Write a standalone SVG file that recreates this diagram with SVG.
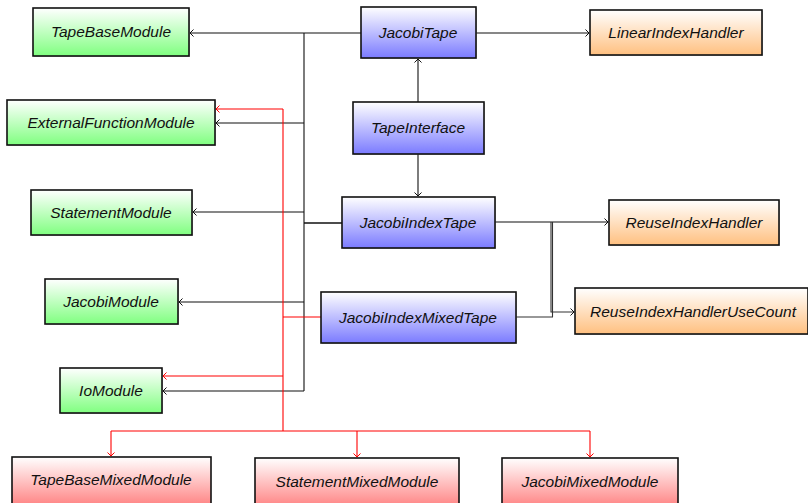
<svg xmlns="http://www.w3.org/2000/svg" width="808" height="503" viewBox="0 0 808 503">
<defs>
<linearGradient id="gG" x1="0" y1="0" x2="0" y2="1"><stop offset="0" stop-color="#ffffff"/><stop offset="1" stop-color="#80ff80"/></linearGradient>
<linearGradient id="gB" x1="0" y1="0" x2="0" y2="1"><stop offset="0" stop-color="#ffffff"/><stop offset="1" stop-color="#7b7bff"/></linearGradient>
<linearGradient id="gO" x1="0" y1="0" x2="0" y2="1"><stop offset="0" stop-color="#ffffff"/><stop offset="1" stop-color="#ffc080"/></linearGradient>
<linearGradient id="gR" x1="0" y1="0" x2="0" y2="1"><stop offset="0" stop-color="#ffffff"/><stop offset="1" stop-color="#ff8080"/></linearGradient>
<marker id="aK" viewBox="-5 -5 6 10" markerWidth="6" markerHeight="10" refX="0" refY="0" orient="auto" markerUnits="userSpaceOnUse"><path d="M-3.5,-3.5 L0,0 L-3.5,3.5" fill="none" stroke="#111" stroke-width="1"/></marker>
<marker id="aR" viewBox="-5 -5 6 10" markerWidth="6" markerHeight="10" refX="0" refY="0" orient="auto" markerUnits="userSpaceOnUse"><path d="M-3.5,-3.5 L0,0 L-3.5,3.5" fill="none" stroke="#f00" stroke-width="1"/></marker>
</defs>
<style>
.n rect.s{fill:#999;opacity:0.5}
.n rect.b{stroke:#111;stroke-width:1.6}
.n text{font-family:"Liberation Sans",Arial,sans-serif;font-style:italic;font-size:15.5px;text-anchor:middle;fill:#111}
.k{fill:none;stroke:#111;stroke-width:1.1}
.t{fill:none;stroke:#444;stroke-width:1.4}
.r{fill:none;stroke:#f00;stroke-width:1.1}
</style>
<g id="connectors">
<path class="t" d="M304,33 V391"/>
<path class="k" d="M361,33 H190" marker-end="url(#aK)"/>
<path class="k" d="M304,123 H216" marker-end="url(#aK)"/>
<path class="k" d="M304,212 H193" marker-end="url(#aK)"/>
<path class="k" d="M304,302 H179" marker-end="url(#aK)"/>
<path class="k" d="M304,391 H163" marker-end="url(#aK)"/>
<path class="k" d="M342,223 H304" style="stroke-width:1.6"/>
<path class="k" d="M476,33 H589" marker-end="url(#aK)"/>
<path class="k" d="M418,102 V59" marker-end="url(#aK)"/>
<path class="k" d="M418,154 V196" marker-end="url(#aK)"/>
<path class="k" d="M495,222 H608" marker-end="url(#aK)"/>
<path class="k" d="M551,222 V312 H574" marker-end="url(#aK)" style="stroke:#333"/>
<path class="k" d="M516,317 H552.5 V222" style="stroke:#333"/>
<path class="r" d="M283,109 V431"/>
<path class="r" d="M283,109 H216" marker-end="url(#aR)"/>
<path class="r" d="M321,317 H283"/>
<path class="r" d="M283,376 H163" marker-end="url(#aR)"/>
<path class="r" d="M111,431 H590"/>
<path class="r" d="M111,431 V456" marker-end="url(#aR)"/>
<path class="r" d="M357,431 V457" marker-end="url(#aR)"/>
<path class="r" d="M590,431 V457" marker-end="url(#aR)"/>
</g>
<g id="TapeBaseModule" class="n"><rect class="s" x="34" y="9" width="156" height="48"/><rect class="b" x="33" y="8" width="156" height="48" fill="url(#gG)"/><text x="111" y="37">TapeBaseModule</text></g>
<g id="ExternalFunctionModule" class="n"><rect class="s" x="8" y="101" width="208" height="45"/><rect class="b" x="7" y="100" width="208" height="45" fill="url(#gG)"/><text x="111" y="128">ExternalFunctionModule</text></g>
<g id="StatementModule" class="n"><rect class="s" x="32" y="191" width="161" height="45"/><rect class="b" x="31" y="190" width="161" height="45" fill="url(#gG)"/><text x="111" y="218">StatementModule</text></g>
<g id="JacobiModule" class="n"><rect class="s" x="46" y="280" width="133" height="45"/><rect class="b" x="45" y="279" width="133" height="45" fill="url(#gG)"/><text x="111" y="307">JacobiModule</text></g>
<g id="IoModule" class="n"><rect class="s" x="61" y="369" width="102" height="45"/><rect class="b" x="60" y="368" width="102" height="45" fill="url(#gG)"/><text x="111" y="396">IoModule</text></g>
<g id="TapeBaseMixedModule" class="n"><rect class="b" x="12" y="457" width="199" height="50" fill="url(#gR)"/><text x="111" y="485">TapeBaseMixedModule</text></g>
<g id="StatementMixedModule" class="n"><rect class="b" x="255" y="458" width="204" height="50" fill="url(#gR)"/><text x="357" y="487">StatementMixedModule</text></g>
<g id="JacobiMixedModule" class="n"><rect class="b" x="502" y="458" width="176" height="50" fill="url(#gR)"/><text x="590" y="487">JacobiMixedModule</text></g>
<g id="JacobiTape" class="n"><rect class="s" x="362" y="8" width="115" height="51"/><rect class="b" x="361" y="7" width="115" height="51" fill="url(#gB)"/><text x="418" y="38">JacobiTape</text></g>
<g id="TapeInterface" class="n"><rect class="s" x="354" y="103" width="131" height="52"/><rect class="b" x="353" y="102" width="131" height="52" fill="url(#gB)"/><text x="418" y="133">TapeInterface</text></g>
<g id="JacobiIndexTape" class="n"><rect class="s" x="343" y="198" width="153" height="51"/><rect class="b" x="342" y="197" width="153" height="51" fill="url(#gB)"/><text x="418" y="228">JacobiIndexTape</text></g>
<g id="JacobiIndexMixedTape" class="n"><rect class="s" x="322" y="293" width="195" height="51"/><rect class="b" x="321" y="292" width="195" height="51" fill="url(#gB)"/><text x="418" y="323">JacobiIndexMixedTape</text></g>
<g id="LinearIndexHandler" class="n"><rect class="s" x="591" y="11" width="172" height="45"/><rect class="b" x="590" y="10" width="172" height="45" fill="url(#gO)"/><text x="676" y="38">LinearIndexHandler</text></g>
<g id="ReuseIndexHandler" class="n"><rect class="s" x="610" y="201" width="170" height="45"/><rect class="b" x="609" y="200" width="170" height="45" fill="url(#gO)"/><text x="694" y="228">ReuseIndexHandler</text></g>
<g id="ReuseIndexHandlerUseCount" class="n"><rect class="s" x="576" y="289" width="233" height="46"/><rect class="b" x="575" y="288" width="233" height="46" fill="url(#gO)"/><text x="693" y="317">ReuseIndexHandlerUseCount</text></g>
</svg>
